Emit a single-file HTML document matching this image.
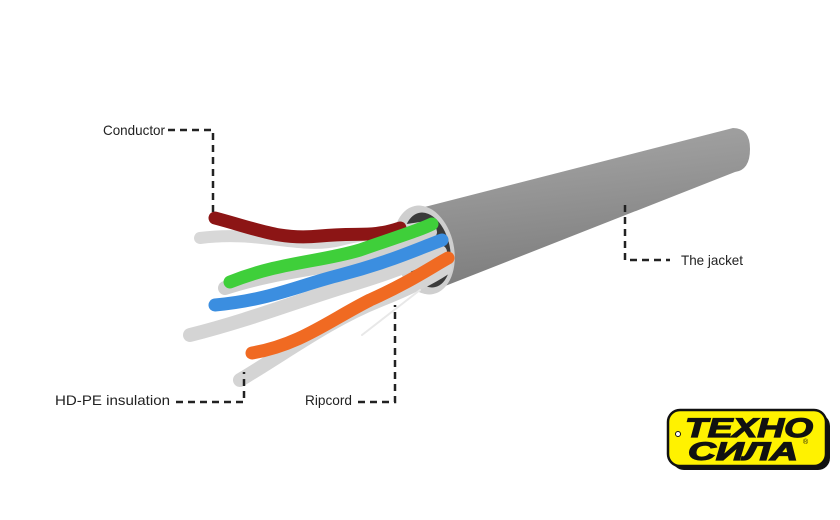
<!DOCTYPE html>
<html><head><meta charset="utf-8"><style>
html,body{margin:0;padding:0;background:#fff;}
svg{display:block;}
text{font-family:"Liberation Sans",sans-serif;}
</style></head><body>
<svg width="840" height="520" viewBox="0 0 840 520" xmlns="http://www.w3.org/2000/svg">
<defs>
<linearGradient id="jk" x1="0" y1="0" x2="0.25" y2="1">
<stop offset="0" stop-color="#a8a8a8"/><stop offset="0.35" stop-color="#9a9a9a"/><stop offset="1" stop-color="#7d7d7d"/>
</linearGradient>
</defs>
<path d="M405,212 L733,128 Q750,128 750,149 Q750,170 735,172 L440,288 Z" fill="url(#jk)"/>
<ellipse cx="424" cy="250" rx="30" ry="45" transform="rotate(-12 424 250)" fill="#cfcfcf"/>
<ellipse cx="427" cy="250" rx="23" ry="38" transform="rotate(-12 427 250)" fill="#3a3a3a"/>
<g fill="none" stroke-linecap="round">
<path d="M200,238 C260,230 300,250 340,240 C370,232 400,232 420,228" stroke="#d8d8d8" stroke-width="12"/>
<path d="M215,218 C260,230 280,240 320,236 C360,232 370,238 400,228" stroke="#8c1515" stroke-width="13"/>
<path d="M225,288 C280,270 330,268 380,255 C410,248 420,240 430,232" stroke="#d0d0d0" stroke-width="14"/>
<path d="M230,282 C280,262 320,262 360,250 C400,236 420,230 432,224" stroke="#3fcf3a" stroke-width="13"/>
<path d="M190,335 C250,320 300,300 350,285 C400,270 420,260 440,252" stroke="#d4d4d4" stroke-width="14"/>
<path d="M215,305 C270,300 300,285 340,275 C390,262 420,248 442,240" stroke="#3b8ee0" stroke-width="13"/>
<path d="M240,380 C290,350 330,320 380,300 C410,288 430,278 445,268" stroke="#d4d4d4" stroke-width="14"/>
<path d="M252,353 C300,345 330,320 370,300 C410,282 430,268 448,258" stroke="#f06a22" stroke-width="13"/>
<path d="M362,335 L420,290" stroke="#e8e8e8" stroke-width="2"/>
</g>
<g stroke="#222" stroke-width="2.5" stroke-dasharray="7,5" fill="none">
<path d="M168,130 H213 V215"/>
<path d="M625,205 V260 H670"/>
<path d="M176,402 H244 V372"/>
<path d="M358,402 H395 V305"/>
</g>
<g font-size="14" fill="#222">
<text x="103" y="135" textLength="62" lengthAdjust="spacingAndGlyphs">Conductor</text>
<text x="681" y="265" textLength="62" lengthAdjust="spacingAndGlyphs">The jacket</text>
<text x="55" y="405" textLength="115" lengthAdjust="spacingAndGlyphs">HD-PE insulation</text>
<text x="305" y="405" textLength="47" lengthAdjust="spacingAndGlyphs">Ripcord</text>
</g>
<rect x="672" y="414" width="158" height="56" rx="12" fill="#111"/>
<rect x="668" y="410" width="158" height="56" rx="12" fill="#fff200" stroke="#111" stroke-width="2.5"/>
<circle cx="678" cy="434" r="2.5" fill="#fff" stroke="#111"/>
<text x="685" y="437" font-size="27" font-weight="bold" font-style="italic" fill="#111" stroke="#111" stroke-width="1.2" textLength="128" lengthAdjust="spacingAndGlyphs">ТЕХНО</text>
<text x="688" y="460" font-size="25" font-weight="bold" font-style="italic" fill="#111" stroke="#111" stroke-width="1.2" textLength="110" lengthAdjust="spacingAndGlyphs">СИЛА</text>
<text x="803" y="444" font-size="7" fill="#111">®</text>
</svg>
</body></html>
